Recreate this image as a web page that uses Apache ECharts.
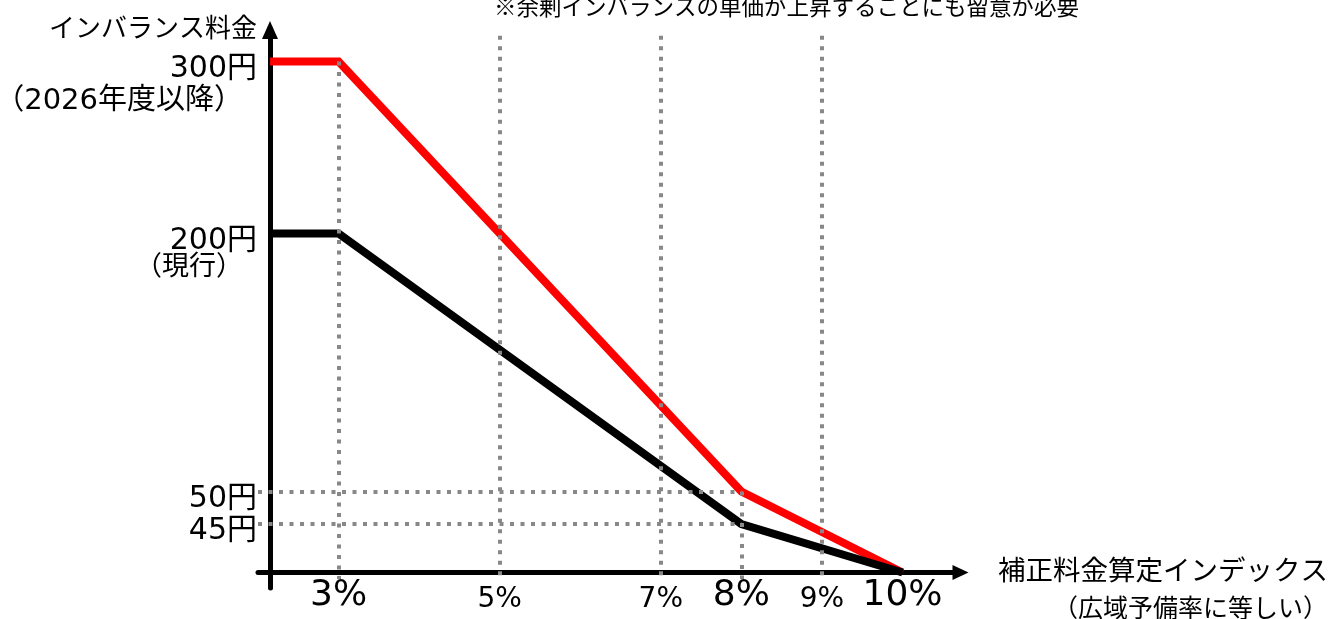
<!DOCTYPE html>
<html>
<head>
<meta charset="utf-8">
<script src="https://cdn.jsdelivr.net/npm/echarts@6/dist/echarts.min.js"></script>
<style>
  html, body { margin: 0; padding: 0; background: #ffffff; }
  #chart { width: 1334px; height: 619px; }
</style>
</head>
<body>
<div id="chart"></div>
<script>
// Correction-price index (%) at each corner of the price curves
const indexPoints = [2.15, 3, 8, 10];
// Imbalance price (yen/kWh), FY2026 onward
const priceFrom2026 = [300, 300, 50, 0];
// Imbalance price (yen/kWh), current rule
const priceCurrent = [200, 200, 45, 0];

// Axis ticks
const xTickValues = [3, 5, 7, 8, 9, 10];
const xTickMajor = [3, 8, 10];
const yTickValues = [45, 50, 200, 300];
const yTickLabels = ['45円', '50円', '200円', '300円'];
const yTickNotes = ['', '', '（現行）', '（2026年度以降）'];

// Dotted reference lines
const vGuideX = [3, 5, 7, 8, 9];
const vGuideTop = [300, 315, 315, 50, 315];
const hGuideY = [50, 45];
const hGuideEndX = 8;

const NUM_FONT = '"DejaVu Sans", "Noto Sans CJK JP", sans-serif';
const JP_FONT = '"Noto Sans CJK JP", sans-serif';
const GUIDE_GRAY = '#888888';

const chart = echarts.init(document.getElementById('chart'), null, { renderer: 'canvas' });

const toPairs = (xs, ys) => xs.map((x, i) => [x, ys[i]]);

const guideLines = [];
vGuideX.forEach((x, i) => {
  guideLines.push([{ coord: [x, vGuideTop[i]] }, { coord: [x, -1] }]);
});
hGuideY.forEach((y) => {
  guideLines.push([{ coord: [2.0, y] }, { coord: [hGuideEndX, y] }]);
});

const option = {
  animation: false,
  backgroundColor: '#ffffff',
  title: {
    text: '※余剰インバランスの単価が上昇することにも留意が必要',
    left: 494,
    top: -5,
    padding: 0,
    textStyle: { fontFamily: JP_FONT, fontSize: 22.5, fontWeight: 'normal', color: '#000' }
  },
  grid: { left: 258, right: 373.5, top: 30, bottom: 31, containLabel: false, outerBoundsMode: 'none' },
  xAxis: {
    type: 'value',
    min: 2.0,
    max: 10.72,
    splitLine: { show: false },
    axisTick: { show: false },
    axisLine: {
      onZero: true,
      onZeroAxisIndex: 0,
      symbol: ['none', 'triangle'],
      symbolSize: [15, 16],
      lineStyle: { color: '#000', width: 5 }
    },
    axisLabel: {
      customValues: xTickValues,
      margin: -10,
      verticalAlign: 'top',
      color: '#000',
      formatter: (v) => (xTickMajor.includes(v) ? `{big|${v}%}` : `{small|${v}%}`),
      rich: {
        big: { fontFamily: NUM_FONT, fontSize: 36, lineHeight: 36, color: '#000' },
        small: { fontFamily: NUM_FONT, fontSize: 28, lineHeight: 44, color: '#000' }
      }
    },
    name: '{a|補正料金算定インデックス}\n{b|（広域予備率に等しい）}',
    nameLocation: 'end',
    nameGap: 367.5,
    nameTextStyle: {
      align: 'right',
      verticalAlign: 'middle',
      color: '#000',
      rich: {
        a: { fontFamily: JP_FONT, fontSize: 27.5, lineHeight: 69, align: 'right', color: '#000' },
        b: { fontFamily: JP_FONT, fontSize: 25, lineHeight: 5, align: 'right', color: '#000' }
      }
    }
  },
  yAxis: [
    {
      // price scale: the 45–50 yen band is widened, the rest compressed
      type: 'value',
      min: -2.38,
      max: 317.35,
      offset: -12,
      breaks: [
        { start: 0, end: 45, gap: 7.46 },
        { start: 50, end: 317, gap: 70.65 }
      ],
      breakArea: { show: false, expandOnClick: false },
      splitLine: { show: false },
      axisTick: { show: false },
      axisLine: { show: false, onZero: false },
      axisLabel: {
        customValues: yTickValues,
        margin: 13,
        verticalAlign: 'top',
        color: '#000',
        formatter: (v) => {
          const i = yTickValues.indexOf(v);
          let s = `{m|${yTickLabels[i]}}`;
          if (yTickNotes[i]) {
            s += `\n{${v >= 300 ? 'noteL' : 'noteS'}|${yTickNotes[i]}}`;
          }
          return s;
        },
        rich: {
          m: { fontFamily: NUM_FONT, fontSize: 30, lineHeight: 15, align: 'right', color: '#000' },
          noteS: { fontFamily: NUM_FONT, fontSize: 27, lineHeight: 38, align: 'right', padding: [0, 14, 0, 0], color: '#000' },
          noteL: { fontFamily: NUM_FONT, fontSize: 29, lineHeight: 50, align: 'right', padding: [0, 14, 0, 0], color: '#000' }
        }
      },
      name: 'インバランス料金',
      nameLocation: 'end',
      nameGap: 3,
      nameTextStyle: {
        fontFamily: JP_FONT,
        fontSize: 26,
        color: '#000',
        align: 'right',
        verticalAlign: 'middle',
        padding: [0, 13, 0, 0]
      }
    },
    {
      // continuous vertical axis line with arrow head
      type: 'value',
      position: 'left',
      min: 0,
      max: 1,
      offset: -12,
      splitLine: { show: false },
      axisTick: { show: false },
      axisLabel: { show: false },
      axisLine: {
        show: true,
        onZero: false,
        symbol: ['none', 'triangle'],
        symbolSize: [16, 18],
        lineStyle: { color: '#000', width: 5 }
      }
    }
  ],
  series: [
    {
      name: 'guides',
      type: 'line',
      data: [],
      z: 1,
      silent: true,
      markLine: {
        silent: true,
        symbol: ['none', 'none'],
        label: { show: false },
        emphasis: { disabled: true },
        lineStyle: { color: GUIDE_GRAY, width: 4, type: [4, 6.5], cap: 'butt' },
        data: guideLines
      }
    },
    {
      name: '2026年度以降',
      type: 'line',
      z: 3,
      data: toPairs(indexPoints, priceFrom2026),
      symbol: 'none',
      lineStyle: { color: '#ff0000', width: 8, join: 'miter', cap: 'butt' }
    },
    {
      name: '現行',
      type: 'line',
      z: 4,
      data: toPairs(indexPoints, priceCurrent),
      symbol: 'none',
      lineStyle: { color: '#000000', width: 8, join: 'miter', cap: 'butt' }
    }
  ]
};

chart.setOption(option);
</script>
</body>
</html>
